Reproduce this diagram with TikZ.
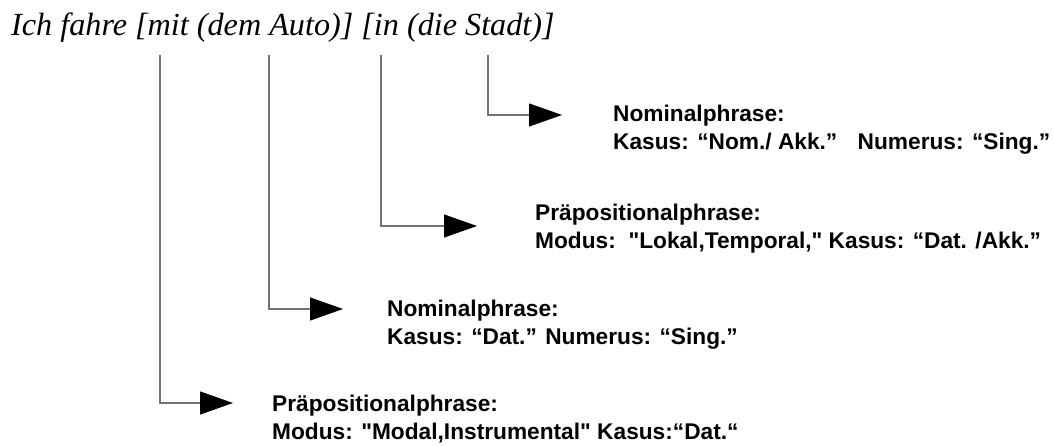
\documentclass[tikz,border=0pt]{standalone}
\usepackage{fontspec}
\setmainfont{Liberation Serif}
\setsansfont{Liberation Sans}
\usetikzlibrary{arrows.meta}
\definecolor{linkgray}{gray}{0.45}
\begin{document}
\begin{tikzpicture}[x=1pt, y=-1pt,
  link/.style={draw=linkgray, line width=1.1pt,
    -{Triangle[length=33pt, width=23pt, color=black, fill=black]}},
  % two-line descriptions, placed by the baseline of their last line
  info/.style={font=\sffamily\bfseries\fontsize{22.7}{28}\selectfont,
    anchor=base west, inner sep=0pt, align=left},
  sentence/.style={font=\itshape\fontsize{32.2}{36}\selectfont,
    anchor=base west, inner sep=0pt}]
  \useasboundingbox (0,0) rectangle (1054,446);

  % the analysed sentence
  \node[sentence] (satz) at (11,36) {Ich fahre [mit (dem Auto)] [in (die Stadt)]};

  % where each bracket's connector leaves the sentence
  \coordinate (s1) at (160,55);
  \coordinate (s2) at (269,55);
  \coordinate (s3) at (381,55);
  \coordinate (s4) at (488,55);

  % arrow tips
  \coordinate (e1) at (233,403);
  \coordinate (e2) at (343,309);
  \coordinate (e3) at (477,226);
  \coordinate (e4) at (562,115);

  % phrase descriptions
  \node[info] (pp1) at (272,439) {Präpositionalphrase:\\Modus: \textquotedbl Modal,Instrumental\textquotedbl{} Kasus:“Dat.“};
  \node[info] (np1) at (387,344) {Nominalphrase:\\Kasus: “Dat.” Numerus: “Sing.”};
  \node[info] (pp2) at (535,248) {Präpositionalphrase:\\Modus:\ \ \textquotedbl Lokal,Temporal,\textquotedbl{} Kasus: “Dat. /Akk.”};
  \node[info] (np2) at (613,150) {Nominalphrase:\\Kasus: “Nom./ Akk.”\hspace{0.9em}Numerus: “Sing.”};

  % connectors
  \draw[link] (s1) |- (e1);
  \draw[link] (s2) |- (e2);
  \draw[link] (s3) |- (e3);
  \draw[link] (s4) |- (e4);
\end{tikzpicture}
\end{document}
